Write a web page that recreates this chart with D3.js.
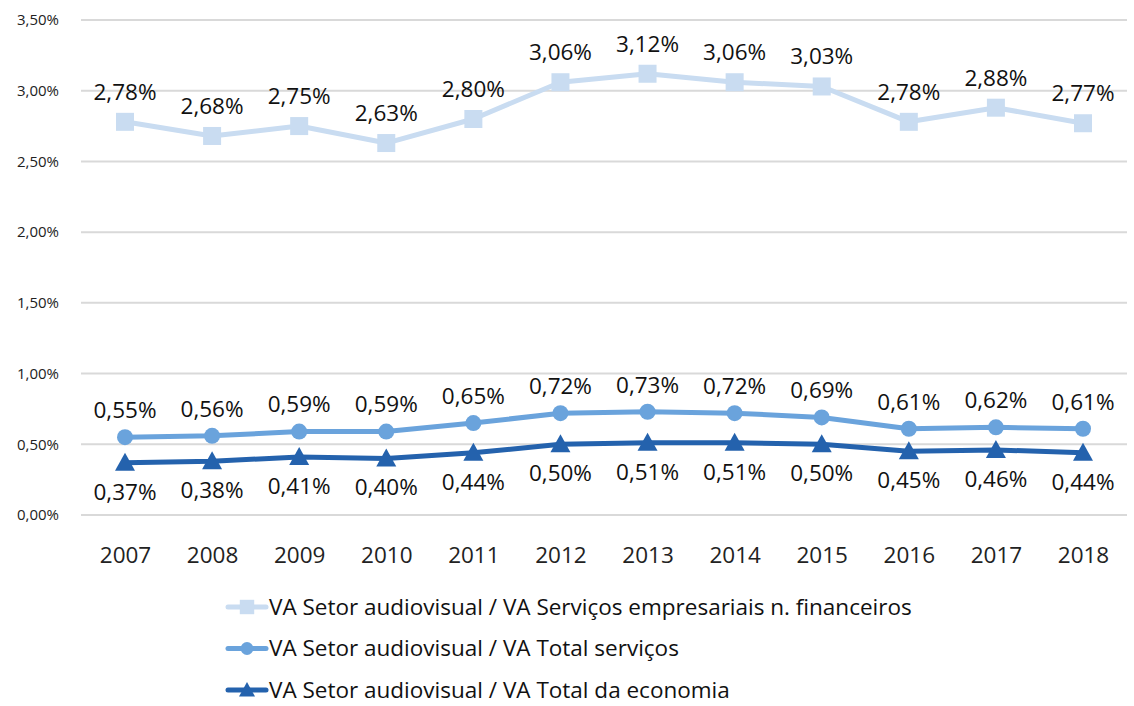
<!DOCTYPE html>
<html>
<head>
<meta charset="utf-8">
<script src="https://cdn.jsdelivr.net/npm/d3@7"></script>
<style>
  body { margin: 0; background: #fff; }
  svg { font-family: "Open Sans", "Noto Sans", sans-serif; }
</style>
</head>
<body>
<div id="chart"></div>
<script>
const width = 1134;
const height = 706;

// Data
const years = ["2007", "2008", "2009", "2010", "2011", "2012", "2013", "2014", "2015", "2016", "2017", "2018"];
const servEmpresariais = [2.78, 2.68, 2.75, 2.63, 2.80, 3.06, 3.12, 3.06, 3.03, 2.78, 2.88, 2.77];
const totalServicos = [0.55, 0.56, 0.59, 0.59, 0.65, 0.72, 0.73, 0.72, 0.69, 0.61, 0.62, 0.61];
const totalEconomia = [0.37, 0.38, 0.41, 0.40, 0.44, 0.50, 0.51, 0.51, 0.50, 0.45, 0.46, 0.44];
const yTicks = [0, 0.5, 1, 1.5, 2, 2.5, 3, 3.5];

const series = [
  {name: "VA Setor audiovisual / VA Serviços empresariais n. financeiros", values: servEmpresariais, color: "#c9dcf1", marker: "square", labelDy: -30},
  {name: "VA Setor audiovisual / VA Total serviços", values: totalServicos, color: "#6aa3dc", marker: "circle", labelDy: -27},
  {name: "VA Setor audiovisual / VA Total da economia", values: totalEconomia, color: "#2462ad", marker: "triangle", labelDy: 29}
];

const margin = {top: 20, right: 7, bottom: 191, left: 81};

const svg = d3.select("#chart").append("svg")
  .attr("width", width)
  .attr("height", height);

const x = d3.scalePoint()
  .domain(years)
  .range([125, 1083]);

const y = d3.scaleLinear()
  .domain([0, 3.5])
  .range([height - margin.bottom, margin.top]);

const fmt = v => d3.format(".2f")(v).replace(".", ",") + "%";

// gridlines
svg.append("g")
  .selectAll("line")
  .data(yTicks)
  .enter().append("line")
  .attr("x1", margin.left)
  .attr("x2", width - margin.right)
  .attr("y1", d => y(d))
  .attr("y2", d => y(d))
  .attr("stroke", "#d9d9d9")
  .attr("stroke-width", 2);

// y axis labels
const yAxis = svg.append("g")
  .attr("transform", `translate(${margin.left - 19},0)`)
  .call(d3.axisLeft(y).tickValues(yTicks).tickSize(0).tickFormat(fmt));
yAxis.select(".domain").remove();
yAxis.selectAll("text")
  .attr("font-size", 15)
  .attr("fill", "#222")
  .attr("font-family", "'Open Sans', sans-serif");

// x axis labels
const xAxis = svg.append("g")
  .attr("transform", `translate(0,${y(0) + 29})`)
  .call(d3.axisBottom(x).tickSize(0));
xAxis.select(".domain").remove();
xAxis.selectAll("text")
  .attr("font-size", 22.5)
  .attr("fill", "#222")
  .attr("font-family", "'Open Sans', sans-serif");

const line = d3.line()
  .x((d, i) => x(years[i]))
  .y(d => y(d));

function drawMarker(g, type, color, cx, cy, scale) {
  const s = scale || 1;
  if (type === "square") {
    g.append("rect")
      .attr("x", cx - 9 * s).attr("y", cy - 9 * s)
      .attr("width", 18 * s).attr("height", 18 * s)
      .attr("fill", color);
  } else if (type === "circle") {
    g.append("circle")
      .attr("cx", cx).attr("cy", cy).attr("r", 8 * s)
      .attr("fill", color);
  } else {
    g.append("path")
      .attr("d", `M${cx},${cy - 10 * s} L${cx + 10 * s},${cy + 8 * s} L${cx - 10 * s},${cy + 8 * s} Z`)
      .attr("fill", color);
  }
}

series.forEach(s => {
  const g = svg.append("g");
  g.append("path")
    .datum(s.values)
    .attr("d", line)
    .attr("fill", "none")
    .attr("stroke", s.color)
    .attr("stroke-width", 5)
    .attr("stroke-linejoin", "round");

  s.values.forEach((v, i) => drawMarker(g, s.marker, s.color, x(years[i]), y(v)));

  g.selectAll("text")
    .data(s.values)
    .enter().append("text")
    .attr("x", (d, i) => x(years[i]))
    .attr("y", d => y(d) + s.labelDy)
    .attr("dy", "0.35em")
    .attr("text-anchor", "middle")
    .attr("font-size", 22.5)
    .attr("fill", "#111")
    .text(fmt);
});

// legend
const legend = svg.append("g")
  .selectAll("g")
  .data(series)
  .enter().append("g")
  .attr("transform", (d, i) => `translate(228,${607 + i * 41.5})`);

legend.append("line")
  .attr("x1", 0).attr("x2", 38)
  .attr("stroke", d => d.color)
  .attr("stroke-width", 5)
  .attr("stroke-linecap", "round");

legend.each(function (d) {
  drawMarker(d3.select(this), d.marker, d.color, 19, 0, 0.8);
});

legend.append("text")
  .attr("x", 41)
  .attr("dy", "0.35em")
  .attr("font-size", 22.5)
  .attr("fill", "#111")
  .text(d => d.name);
</script>
</body>
</html>
